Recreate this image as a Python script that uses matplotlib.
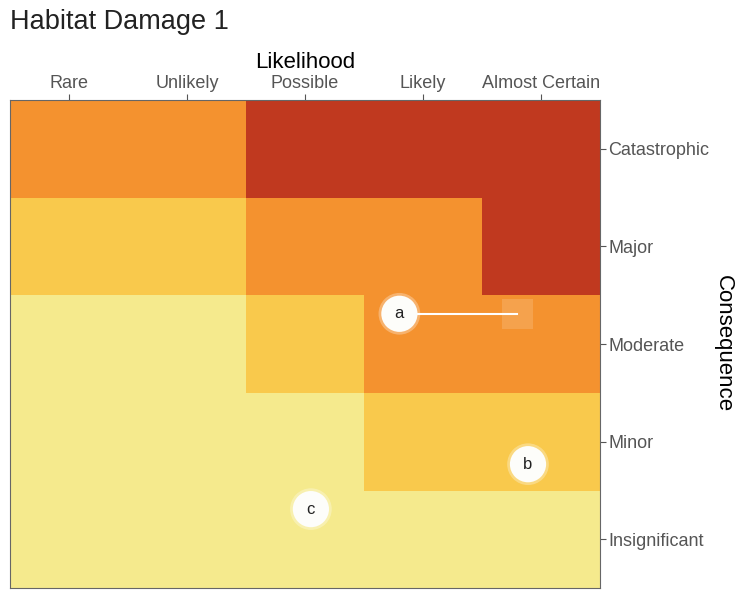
import numpy as np
import matplotlib
matplotlib.use("Agg")
import matplotlib.pyplot as plt
from matplotlib.colors import ListedColormap, BoundaryNorm

plt.rcParams["font.family"] = ["Liberation Sans", "DejaVu Sans"]

likelihood = ["Rare", "Unlikely", "Possible", "Likely", "Almost Certain"]
consequence = ["Insignificant", "Minor", "Moderate", "Major", "Catastrophic"]

# risk level per cell, rows bottom (Insignificant) to top (Catastrophic)
risk = np.array([
    [1, 1, 1, 1, 1],
    [1, 1, 1, 2, 2],
    [1, 1, 2, 3, 3],
    [2, 2, 3, 3, 4],
    [3, 3, 4, 4, 4],
])
risk_colors = ["#F5EA8D", "#F9C94C", "#F4922F", "#C0391F"]

# assessed points (likelihood, consequence), in cell units
point_labels = ["a", "b", "c"]
point_x = [2.80, 3.89, 2.05]
point_y = [2.31, 0.77, 0.31]
# "a" moves to this position
a_target = (3.80, 2.31)

fig = plt.figure(figsize=(7.41, 5.90), dpi=100)
ax = fig.add_axes([0.0135, 0.003, 0.7962, 0.8277])

cmap = ListedColormap(risk_colors)
norm = BoundaryNorm([0.5, 1.5, 2.5, 3.5, 4.5], cmap.N)
ax.pcolormesh(np.arange(-0.5, 5), np.arange(-0.5, 5), risk, cmap=cmap, norm=norm)

ax.plot([point_x[0], a_target[0]], [point_y[0], a_target[1]], color="white", lw=1.5, zorder=3)
ax.scatter([a_target[0]], [a_target[1]], marker="s", s=480, color="white", alpha=0.15,
           edgecolors="none", zorder=3)
ax.scatter(point_x, point_y, s=900, color="white", alpha=0.3, edgecolors="none", zorder=4)
ax.scatter(point_x, point_y, s=680, color="#FDFDFA", edgecolors="none", zorder=5)
for lab, x, y in zip(point_labels, point_x, point_y):
    ax.text(x, y, lab, ha="center", va="center", fontsize=12, color="#222222", zorder=6)

ax.set_xlim(-0.5, 4.5)
ax.set_ylim(-0.5, 4.5)
ax.xaxis.tick_top()
ax.xaxis.set_label_position("top")
ax.yaxis.tick_right()
ax.yaxis.set_label_position("right")
ax.set_xticks(range(5))
ax.set_xticklabels(likelihood)
ax.set_yticks(range(5))
ax.set_yticklabels(consequence)
ax.tick_params(labelsize=13, labelcolor="#555555", color="#555555", length=4, width=0.8, pad=2)
ax.set_xlabel("Likelihood", fontsize=16, labelpad=5)
ax.set_ylabel("Consequence", fontsize=16, rotation=270, labelpad=18)
for s in ax.spines.values():
    s.set_color("#666666")
    s.set_linewidth(0.8)

fig.text(0.0135, 0.962, "Habitat Damage 1", fontsize=19.5, ha="left", va="center", color="#222222")

fig.savefig("out.png", dpi=100)
